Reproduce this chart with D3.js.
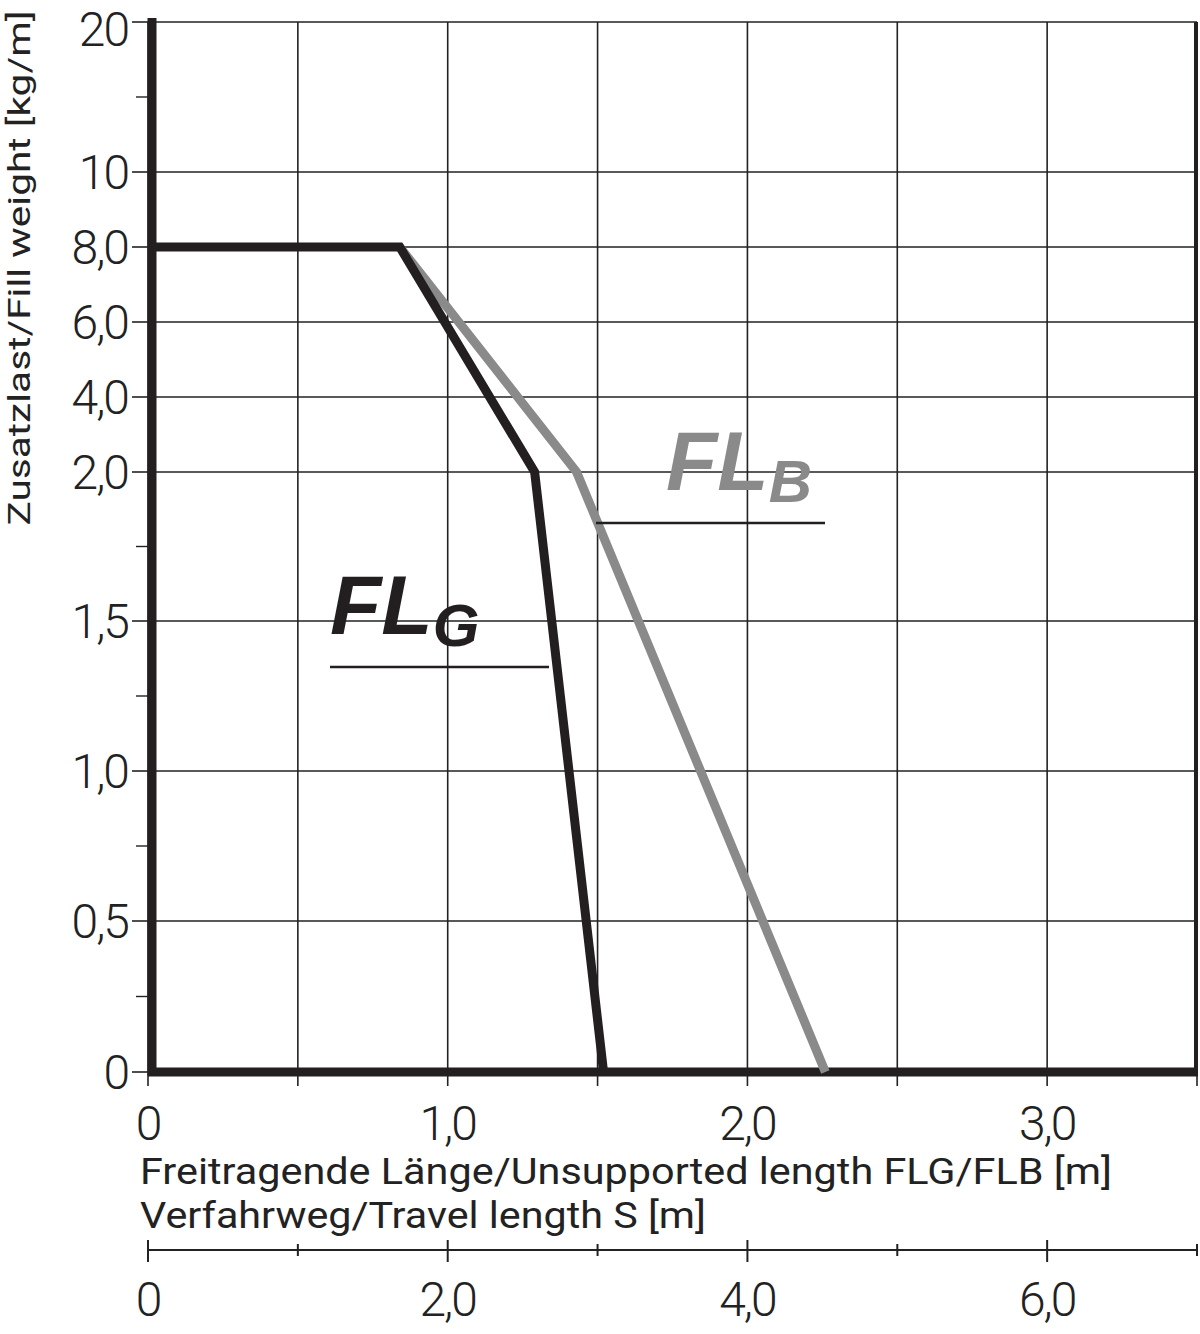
<!DOCTYPE html>
<html><head><meta charset="utf-8">
<script src="https://cdn.jsdelivr.net/npm/d3@7"></script>
<style>body{margin:0;background:#fff}</style>
</head><body>
<script>
// y axis is piecewise (non-linear)
const yTicks = [0, 0.5, 1.0, 1.5, 2.0, 4.0, 6.0, 8.0, 10, 20];
const yLabels = ["0", "0,5", "1,0", "1,5", "2,0", "4,0", "6,0", "8,0", "10", "20"];
const yMinor = [0.25, 0.75, 1.25, 1.75, 15];
const xTicks = [0, 1.0, 2.0, 3.0];
const xLabels = ["0", "1,0", "2,0", "3,0"];
const xGrid = [0, 0.5, 1.0, 1.5, 2.0, 2.5, 3.0, 3.5];
const sTicks = [0, 2.0, 4.0, 6.0];
const sLabels = ["0", "2,0", "4,0", "6,0"];
const sMinor = [0, 1, 2, 3, 4, 5, 6, 7];
const flgX = [0, 0.84, 1.29, 1.52];
const flgY = [8, 8, 2, 0];
const flbX = [0.84, 1.43, 2.26];
const flbY = [8, 2, 0];

const svg = d3.select("body").append("svg").attr("width", 1200).attr("height", 1334);
const font = "Roboto, 'Liberation Sans', sans-serif";

const x = d3.scaleLinear().domain([0, 3.5]).range([148, 1197]);
const y = d3.scaleLinear()
  .domain(yTicks)
  .range([1072, 921, 771, 621, 472, 397, 322, 247, 172, 22]);
const s = d3.scaleLinear().domain([0, 7]).range([148, 1197]);

// grid
svg.selectAll(".hg").data(yTicks).enter().append("line")
  .attr("x1", 148).attr("x2", 1197).attr("y1", d => y(d)).attr("y2", d => y(d))
  .attr("stroke", "#222").attr("stroke-width", 1.6);
svg.selectAll(".vg").data(xGrid).enter().append("line")
  .attr("y1", 22).attr("y2", 1072).attr("x1", d => x(d)).attr("x2", d => x(d))
  .attr("stroke", "#222").attr("stroke-width", 1.6);

// left ticks
svg.selectAll(".yt").data(yTicks).enter().append("line")
  .attr("x1", 132).attr("x2", 148).attr("y1", d => y(d)).attr("y2", d => y(d))
  .attr("stroke", "#222").attr("stroke-width", 1.6);
svg.selectAll(".ym").data(yMinor).enter().append("line")
  .attr("x1", 136).attr("x2", 148).attr("y1", d => y(d)).attr("y2", d => y(d))
  .attr("stroke", "#222").attr("stroke-width", 1.4);
svg.selectAll(".yl").data(yTicks).enter().append("text")
  .attr("x", 128).attr("y", d => d === 20 ? y(d) + 24 : y(d) + 17).attr("text-anchor", "end")
  .attr("font-family", font).attr("font-weight", 300).attr("font-size", 48)
  .attr("letter-spacing", -2).attr("fill", "#222")
  .text((d, i) => yLabels[i]);

// bottom ticks
svg.selectAll(".xt").data(xGrid).enter().append("line")
  .attr("y1", 1072).attr("y2", 1086).attr("x1", d => x(d)).attr("x2", d => x(d))
  .attr("stroke", "#222").attr("stroke-width", 1.6);
svg.selectAll(".xl").data(xTicks).enter().append("text")
  .attr("x", d => x(d)).attr("y", 1140).attr("text-anchor", "middle")
  .attr("font-family", font).attr("font-weight", 300).attr("font-size", 48)
  .attr("letter-spacing", -2).attr("fill", "#222")
  .text((d, i) => xLabels[i]);

// frame
svg.append("line").attr("x1", 152).attr("x2", 152).attr("y1", 18).attr("y2", 1076)
  .attr("stroke", "#231f20").attr("stroke-width", 9);
svg.append("line").attr("x1", 148).attr("x2", 1198).attr("y1", 1072).attr("y2", 1072)
  .attr("stroke", "#231f20").attr("stroke-width", 9);
svg.append("line").attr("x1", 1196).attr("x2", 1196).attr("y1", 22).attr("y2", 1076)
  .attr("stroke", "#231f20").attr("stroke-width", 4);

// curves
const line = d3.line().x(d => x(d[0])).y(d => y(d[1]));
svg.append("path").datum(flbX.map((v, i) => [v, flbY[i]]))
  .attr("d", line).attr("fill", "none").attr("stroke", "#8a8a8a").attr("stroke-width", 9);
svg.append("path").datum(flgX.map((v, i) => [v, flgY[i]]))
  .attr("d", line).attr("fill", "none").attr("stroke", "#231f20").attr("stroke-width", 9)
  .attr("stroke-linejoin", "miter");

// curve labels
function lbl(tx, ty, sub, col, ux1, ux2, uy) {
  const t = svg.append("text").attr("x", tx).attr("y", ty)
    .attr("font-family", "'Liberation Sans', Arial, sans-serif").attr("font-weight", 700)
    .attr("font-style", "italic").attr("font-size", 84).attr("fill", col);
  t.append("tspan").text("FL");
  t.append("tspan").attr("font-size", 60).attr("dy", 12).text(sub);
  svg.append("line").attr("x1", ux1).attr("x2", ux2).attr("y1", uy).attr("y2", uy)
    .attr("stroke", "#231f20").attr("stroke-width", 2.5);
}
lbl(330, 634, "G", "#231f20", 330, 549, 667);
lbl(666, 490, "B", "#8a8a8a", 596, 825, 523);

// axis titles
svg.append("text").attr("transform", "translate(30,268) rotate(-90)")
  .attr("text-anchor", "middle").attr("font-family", font).attr("font-size", 32)
  .attr("textLength", 515).attr("lengthAdjust", "spacingAndGlyphs")
  .attr("fill", "#222").text("Zusatzlast/Fill weight [kg/m]");
svg.append("text").attr("x", 140).attr("y", 1184).attr("font-family", font)
  .attr("font-size", 36).attr("textLength", 972).attr("lengthAdjust", "spacingAndGlyphs")
  .attr("fill", "#222")
  .text("Freitragende Länge/Unsupported length FLG/FLB [m]");
svg.append("text").attr("x", 140).attr("y", 1228).attr("font-family", font)
  .attr("font-size", 36).attr("textLength", 566).attr("lengthAdjust", "spacingAndGlyphs")
  .attr("fill", "#222")
  .text("Verfahrweg/Travel length S [m]");

// travel length axis
svg.append("line").attr("x1", 148).attr("x2", 1197).attr("y1", 1250).attr("y2", 1250)
  .attr("stroke", "#222").attr("stroke-width", 2);
svg.selectAll(".st").data(sMinor).enter().append("line")
  .attr("x1", d => s(d)).attr("x2", d => s(d))
  .attr("y1", d => d % 2 === 0 ? 1240 : 1244).attr("y2", d => d % 2 === 0 ? 1262 : 1256)
  .attr("stroke", "#222").attr("stroke-width", 2);
svg.selectAll(".sl").data(sTicks).enter().append("text")
  .attr("x", d => s(d)).attr("y", 1316).attr("text-anchor", "middle")
  .attr("font-family", font).attr("font-weight", 300).attr("font-size", 48)
  .attr("letter-spacing", -2).attr("fill", "#222")
  .text((d, i) => sLabels[i]);
</script>
</body></html>
